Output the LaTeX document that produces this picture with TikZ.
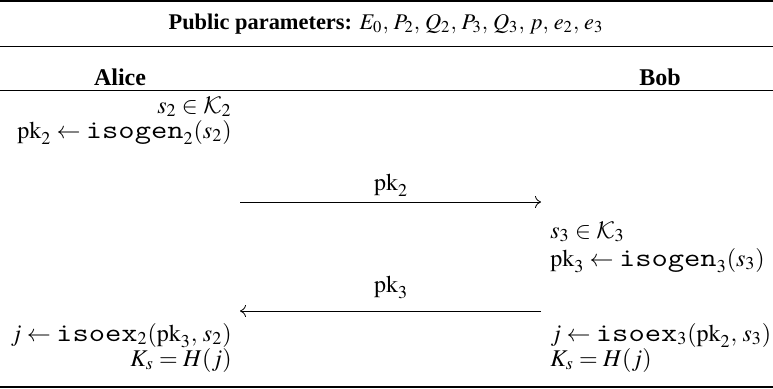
\documentclass[tikz,border=0pt]{standalone}
\usepackage{mathptmx}
\usepackage{fontspec}
\setmainfont{Liberation Serif}
\setmonofont{Latin Modern Mono}[Scale=1.08,FakeStretch=1.22]
\DeclareMathAlphabet{\mathcal}{OMS}{cmsy}{m}{n}
\newcommand{\algo}[1]{\texttt{#1}}
\usetikzlibrary{arrows.meta}

\begin{document}
\begin{tikzpicture}[x=0.5pt,y=-0.5pt,
  every node/.style={font=\fontsize{12}{14}\selectfont, inner sep=0pt},
  alice/.style={anchor=base east},
  bob/.style={anchor=base west},
  msg/.style={anchor=base},
  heavyrule/.style={line width=1pt},
  lightrule/.style={line width=0.5pt},
  send/.style={-{To[length=3pt,width=6pt]}, line width=0.4pt}]
  \useasboundingbox (0,0) rectangle (773,388);
  % rules
  \draw[heavyrule] (0,1) -- (773,1);
  \draw[lightrule] (0,46.5) -- (773,46.5);
  \draw[lightrule] (0,90.5) -- (773,90.5);
  \draw[heavyrule] (0,387) -- (773,387);
  % header
  \node[msg, font=\fontsize{11.2}{14}\selectfont] (title) at (386,29) {\textbf{Public parameters:} $E_0,\, P_2,\, Q_2,\, P_3,\, Q_3,\, p,\, e_2,\, e_3$};
  \node[msg] (alice) at (120,85) {\textbf{Alice}};
  \node[msg] (bob) at (660,85) {\textbf{Bob}};
  % Alice
  \node[alice] (a1) at (232,113) {$s_2 \in \mathcal{K}_2$};
  \node[alice] (a2) at (232,138) {$\mathrm{pk}_2 \leftarrow \algo{isogen}_2(s_2)$};
  % first message
  \coordinate (m1s) at (240,202);
  \coordinate (m1e) at (541,202);
  \node[msg] (m1) at (391,190) {$\mathrm{pk}_2$};
  \draw[send] (m1s) -- (m1e);
  % Bob
  \node[bob] (b1) at (550,238) {$s_3 \in \mathcal{K}_3$};
  \node[bob] (b2) at (550,266) {$\mathrm{pk}_3 \leftarrow \algo{isogen}_3(s_3)$};
  % second message
  \coordinate (m2s) at (541,311);
  \coordinate (m2e) at (240,311);
  \node[msg] (m2) at (391,292) {$\mathrm{pk}_3$};
  \draw[send] (m2s) -- (m2e);
  % shared key
  \node[alice] (a3) at (232,341) {$j \leftarrow \algo{isoex}_2(\mathrm{pk}_3,\, s_2)$};
  \node[alice] (a4) at (232,366) {$K_s = H(j)$};
  \node[bob] (b3) at (550,341) {$j \leftarrow \algo{isoex}_3(\mathrm{pk}_2,\, s_3)$};
  \node[bob] (b4) at (550,366) {$K_s = H(j)$};
\end{tikzpicture}
\end{document}
